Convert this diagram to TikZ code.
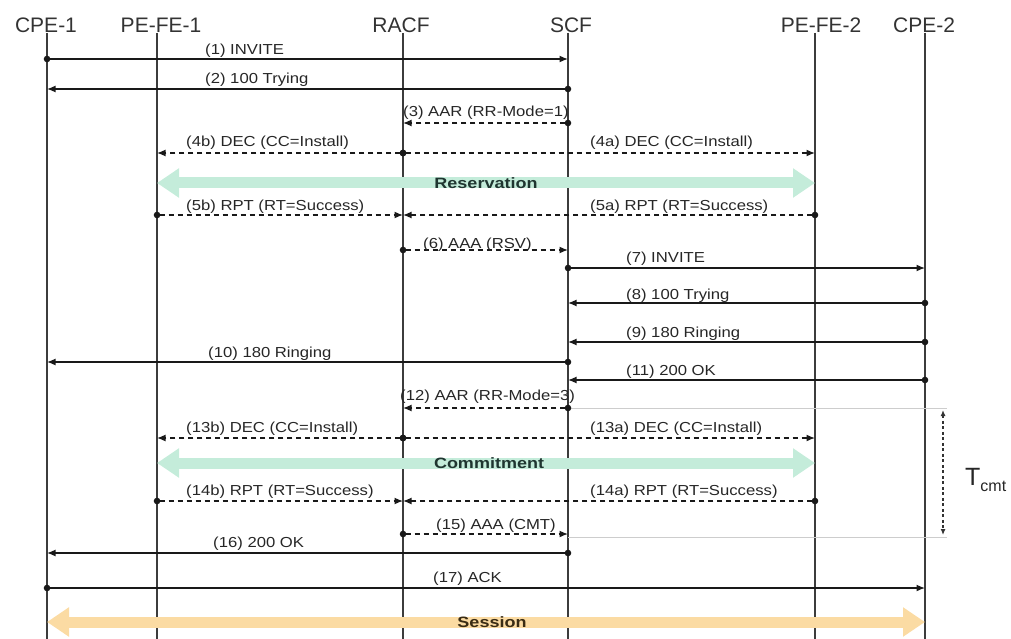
\documentclass[tikz,border=0pt]{standalone}
\usepackage{fontspec}
\setmainfont{Liberation Sans}
\usetikzlibrary{arrows.meta}
\definecolor{life}{HTML}{3C3C3C}
\definecolor{resv}{HTML}{C4ECDA}
\definecolor{sess}{HTML}{FBDBA3}
\definecolor{gline}{HTML}{CDCDCD}
\definecolor{bandtxt}{HTML}{1F3530}
\definecolor{sesstxt}{HTML}{3A2C14}
\tikzset{
  lifeline/.style={line width=1.5pt, life},
  msg/.style={line width=1.4pt, black!90, {Circle[length=6.5pt, sep=-3.2pt]}-{Latex[length=8.5pt,width=7pt]}},
  dmsg/.style={msg, dash pattern=on 5pt off 4pt},
  lbl/.style={font=\fontsize{14.5}{16}\selectfont, xscale=1.15, anchor=base west, inner sep=0pt, text=black!85},
  hdr/.style={font=\fontsize{21}{23}\selectfont, anchor=base, inner sep=0pt, text=black!80},
  band/.style={line width=11pt, {Triangle[length=22pt,width=28pt]}-{Triangle[length=22pt,width=28pt]}},
  bandlbl/.style={font=\bfseries\fontsize{15}{17}\selectfont, xscale=1.2, inner sep=0pt},
  thin/.style={line width=0.8pt, gline},
  tcmt/.style={line width=1.2pt, black!80, dash pattern=on 3pt off 2.5pt, {Latex[length=6pt,width=5pt]}-{Latex[length=6pt,width=5pt]}}
}
\newcommand{\seqmsg}[8]{%
  \coordinate (y#1) at (0,#2);
  \draw[#5] (#3 |- y#1) -- (#4 |- y#1);
  \node[lbl] (t#1) at (#7,#8) {#6};}
\begin{document}
\begin{tikzpicture}[x=1pt,y=-1pt]
\useasboundingbox (0,0) rectangle (1011,639);
% lifelines
\coordinate (cpe1) at (47,33);
\coordinate (pefe1) at (157,33);
\coordinate (racf) at (403,33);
\coordinate (scf) at (568,33);
\coordinate (pefe2) at (815,33);
\coordinate (cpe2) at (925,33);
\coordinate (bot) at (0,639);
\node[hdr] (hcpe1) at (46,33) {CPE-1};
\node[hdr] (hpefe1) at (161,33) {PE-FE-1};
\node[hdr] (hracf) at (401,33) {RACF};
\node[hdr] (hscf) at (571,33) {SCF};
\node[hdr] (hpefe2) at (821,33) {PE-FE-2};
\node[hdr] (hcpe2) at (924,33) {CPE-2};
\foreach \l in {cpe1,pefe1,racf,scf,pefe2,cpe2}
  \draw[lifeline] (\l) -- (\l |- bot);
% thin gray timing lines
\coordinate (g1) at (947,408);
\coordinate (g2) at (947,537);
\draw[thin] (scf |- g1) -- (g1);
\draw[thin] (scf |- g2) -- (g2);
% bands
\coordinate (yR) at (0,183);
\coordinate (yC) at (0,463);
\coordinate (yS) at (0,622);
\draw[band, resv] (pefe1 |- yR) -- (pefe2 |- yR);
\node[bandlbl, text=bandtxt] (tR) at (486,183) {Reservation};
\draw[band, resv] (pefe1 |- yC) -- (pefe2 |- yC);
\node[bandlbl, text=bandtxt] (tC) at (489,463) {Commitment};
\draw[band, sess] (cpe1 |- yS) -- (cpe2 |- yS);
\node[bandlbl, text=sesstxt] (tS) at (492,622) {Session};
% messages
\seqmsg{1}{59}{cpe1}{scf}{msg}{(1) INVITE}{205}{55}
\seqmsg{2}{89}{scf}{cpe1}{msg}{(2) 100 Trying}{205}{84}
\seqmsg{3}{123}{scf}{racf}{dmsg}{(3) AAR (RR-Mode=1)}{403}{117}
\seqmsg{4b}{153}{racf}{pefe1}{dmsg}{(4b) DEC (CC=Install)}{186}{147}
\seqmsg{4a}{153}{racf}{pefe2}{dmsg}{(4a) DEC (CC=Install)}{590}{147}
\seqmsg{5b}{215}{pefe1}{racf}{dmsg}{(5b) RPT (RT=Success)}{186}{210}
\seqmsg{5a}{215}{pefe2}{racf}{dmsg}{(5a) RPT (RT=Success)}{590}{210}
\seqmsg{6}{250}{racf}{scf}{dmsg}{(6) AAA (RSV)}{423}{248}
\seqmsg{7}{268}{scf}{cpe2}{msg}{(7) INVITE}{626}{262}
\seqmsg{8}{303}{cpe2}{scf}{msg}{(8) 100 Trying}{626}{299}
\seqmsg{9}{342}{cpe2}{scf}{msg}{(9) 180 Ringing}{626}{337}
\seqmsg{10}{362}{scf}{cpe1}{msg}{(10) 180 Ringing}{208}{357}
\seqmsg{11}{380}{cpe2}{scf}{msg}{(11) 200 OK}{626}{375}
\seqmsg{12}{408}{scf}{racf}{dmsg}{(12) AAR (RR-Mode=3)}{400}{400}
\seqmsg{13b}{438}{racf}{pefe1}{dmsg}{(13b) DEC (CC=Install)}{186}{432}
\seqmsg{13a}{438}{racf}{pefe2}{dmsg}{(13a) DEC (CC=Install)}{590}{432}
\seqmsg{14b}{501}{pefe1}{racf}{dmsg}{(14b) RPT (RT=Success)}{186}{495}
\seqmsg{14a}{501}{pefe2}{racf}{dmsg}{(14a) RPT (RT=Success)}{590}{495}
\seqmsg{15}{534}{racf}{scf}{dmsg}{(15) AAA (CMT)}{436}{529}
\seqmsg{16}{553}{scf}{cpe1}{msg}{(16) 200 OK}{213}{547}
\seqmsg{17}{588}{cpe1}{cpe2}{msg}{(17) ACK}{433}{582}
% T_cmt
\coordinate (tc1) at (943,410);
\coordinate (tc2) at (943,535);
\draw[tcmt] (tc1) -- (tc2);
\node[inner sep=0pt, anchor=base west, text=black!85] (tcmtlbl) at (965,485)
  {\fontsize{25}{27}\selectfont T\raisebox{-6pt}{\fontsize{16}{18}\selectfont cmt}};
\end{tikzpicture}
\end{document}
